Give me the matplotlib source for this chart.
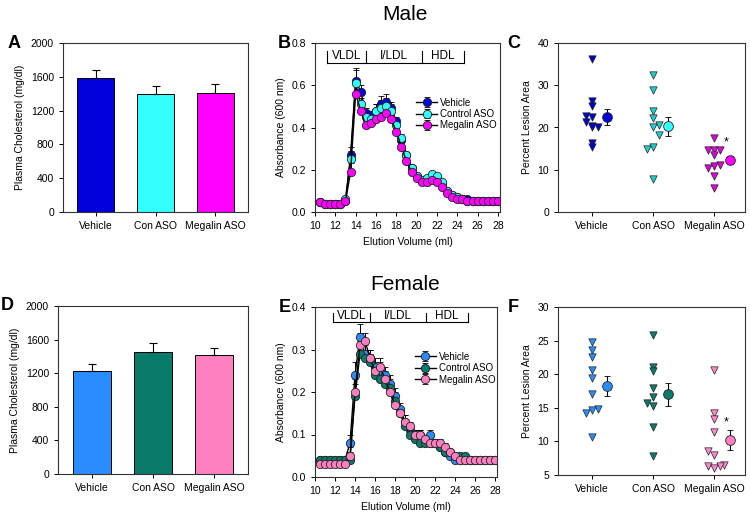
import matplotlib.pyplot as plt

plt.rcParams['font.family'] = ['Liberation Sans', 'DejaVu Sans']

# ---- data ----
groups = ["Vehicle", "Con ASO", "Megalin ASO"]

# plasma cholesterol (mg/dl)
male_chol = [1590, 1400, 1410]
male_chol_err = [85, 95, 110]
female_chol = [1230, 1450, 1420]
female_chol_err = [80, 110, 85]

# FPLC profiles
fplc_labels = ["Vehicle", "Control ASO", "Megalin ASO"]
elution = [10.5, 11, 11.5, 12, 12.5, 13, 13.5, 14, 14.5, 15, 15.5, 16, 16.5, 17, 17.5, 18,
           18.5, 19, 19.5, 20, 20.5, 21, 21.5, 22, 22.5, 23, 23.5, 24, 24.5, 25, 25.5, 26,
           26.5, 27, 27.5, 28]

male_veh = [0.045, 0.04, 0.04, 0.04, 0.04, 0.05, 0.27, 0.62, 0.57, 0.47, 0.46, 0.48, 0.51, 0.52,
            0.49, 0.43, 0.34, 0.27, 0.21, 0.17, 0.15, 0.15, 0.16, 0.16, 0.13, 0.10, 0.08, 0.07,
            0.06, 0.06, 0.05, 0.05, 0.05, 0.05, 0.05, 0.05]
male_con = [0.045, 0.04, 0.04, 0.04, 0.04, 0.06, 0.25, 0.61, 0.51, 0.45, 0.44, 0.48, 0.49, 0.50,
            0.48, 0.41, 0.35, 0.27, 0.21, 0.17, 0.15, 0.16, 0.18, 0.17, 0.14, 0.10, 0.08, 0.07,
            0.06, 0.05, 0.05, 0.05, 0.05, 0.05, 0.05, 0.05]
male_meg = [0.045, 0.04, 0.04, 0.04, 0.04, 0.05, 0.19, 0.56, 0.48, 0.41, 0.42, 0.44, 0.45, 0.47,
            0.44, 0.38, 0.31, 0.24, 0.19, 0.16, 0.14, 0.14, 0.15, 0.14, 0.12, 0.09, 0.07, 0.06,
            0.06, 0.05, 0.05, 0.05, 0.05, 0.05, 0.05, 0.05]
male_veh_err = [0, 0, 0, 0, 0, 0.01, 0.04, 0.06, 0.03, 0.02, 0.02, 0.03, 0.04, 0.04,
                0.03, 0.02, 0.02, 0.01, 0.01, 0.01, 0.01, 0.01, 0.01, 0.01, 0.01, 0.01, 0, 0,
                0, 0, 0, 0, 0, 0, 0, 0]

female_veh = [0.04, 0.04, 0.04, 0.04, 0.04, 0.04, 0.08, 0.24, 0.33, 0.29, 0.28, 0.26, 0.25, 0.24,
              0.22, 0.19, 0.16, 0.13, 0.11, 0.10, 0.10, 0.09, 0.10, 0.08, 0.07, 0.06, 0.05, 0.04,
              0.04, 0.04, 0.04, 0.04, 0.04, 0.04, 0.04, 0.04]
female_con = [0.04, 0.04, 0.04, 0.04, 0.04, 0.04, 0.04, 0.19, 0.29, 0.28, 0.27, 0.24, 0.23, 0.22,
              0.21, 0.18, 0.15, 0.12, 0.10, 0.09, 0.08, 0.08, 0.08, 0.08, 0.07, 0.06, 0.06, 0.05,
              0.05, 0.05, 0.04, 0.04, 0.04, 0.04, 0.04, 0.04]
female_meg = [0.03, 0.03, 0.03, 0.03, 0.03, 0.03, 0.05, 0.20, 0.31, 0.32, 0.28, 0.25, 0.26, 0.23,
              0.20, 0.17, 0.15, 0.13, 0.12, 0.10, 0.10, 0.09, 0.08, 0.08, 0.08, 0.07, 0.06, 0.05,
              0.04, 0.04, 0.04, 0.04, 0.04, 0.04, 0.04, 0.04]
female_err = [0, 0, 0, 0, 0, 0.005, 0.02, 0.03, 0.03, 0.02, 0.02, 0.02, 0.02, 0.02,
              0.02, 0.02, 0.015, 0.015, 0.01, 0.01, 0.01, 0.01, 0.01, 0.01, 0.01, 0.01, 0.005, 0.005,
              0.005, 0.005, 0, 0, 0, 0, 0, 0]

# lesion area (%), individual animals, with column slot for spreading
male_lesion = [
    [36.2, 26.2, 25.0, 22.8, 22.4, 21.3, 20.3, 20.1, 20.0, 16.3, 15.4],
    [32.5, 28.9, 23.8, 22.3, 20.7, 20.0, 18.2, 15.3, 14.8, 7.9],
    [17.6, 14.7, 14.6, 14.6, 13.6, 11.2, 10.8, 10.5, 8.6, 5.6],
]
male_slot = [
    [0, 0, 0, -1, 0, -1, 0, 1, 0, 0, 0],
    [0, 0, 0, 0, 1, 0, 1, 0, -1, 0],
    [0, -1, 0, 1, 0, 1, 0, -1, 0, 0],
]
male_mean = [22.5, 20.3, 12.3]
male_sem = [1.8, 2.2, 1.0]

female_lesion = [
    [24.8, 23.6, 22.6, 20.6, 19.4, 17.0, 14.8, 14.7, 14.2, 10.6],
    [25.8, 21.1, 20.5, 18.0, 16.6, 15.7, 15.2, 12.2, 7.8],
    [20.6, 14.3, 13.3, 11.4, 8.5, 8.0, 6.5, 6.4, 6.4, 6.1],
]
female_slot = [
    [0, 0, 0, 0, 0, 0, 1, 0, -1, 0],
    [0, 0, 0, 0, 0, -1, 0, 0, 0],
    [0, 0, 0, 0, -1, 0, 1.5, 1, -1, 0],
]
female_mean = [18.3, 17.0, 10.2]
female_sem = [1.5, 1.7, 1.5]

male_colors = ["#0000dd", "#33ffff", "#ff00ff"]
male_tri = ["#0000cc", "#22cccc", "#dd00dd"]
female_colors = ["#2a8cff", "#0a7a6a", "#ff80c0"]
female_tri = ["#2a8cff", "#0a7a6a", "#ff88cc"]


def style_axes(ax):
    for s in ax.spines.values():
        s.set_linewidth(0.8)
        s.set_color("#333333")
    ax.tick_params(labelsize=7.5, length=3, width=0.7, direction="out")


def bar_panel(ax, vals, errs, colors, letter):
    x = range(len(groups))
    ax.bar(x, vals, width=0.62, color=colors, edgecolor="black", linewidth=0.7)
    ax.errorbar(x, vals, yerr=[[0] * len(errs), errs], fmt="none", ecolor="black",
                elinewidth=0.8, capsize=3, capthick=0.8)
    ax.set_xticks(list(x))
    ax.set_xticklabels(groups)
    ax.tick_params(axis="x", length=0)
    ax.set_xlim(-0.55, 2.55)
    ax.set_ylim(0, 2000)
    ax.set_yticks([0, 400, 800, 1200, 1600, 2000])
    ax.set_ylabel("Plasma Cholesterol (mg/dl)", fontsize=7.5)
    style_axes(ax)
    ax.text(-0.3, 1.0, letter, transform=ax.transAxes, fontsize=13, fontweight="bold",
            va="center", ha="left")


def fplc_panel(ax, series, colors, errs, ymax, yticks, bracket_y, text_y, bars, letter, leg_y):
    for ys, c, lab in zip(series, colors, fplc_labels):
        ax.errorbar(elution, ys, yerr=[[0] * len(errs), errs], color="black", lw=1.0,
                    marker="o", ms=6, mfc=c, mec="#222222", mew=0.6, ecolor="black",
                    elinewidth=0.7, capsize=2, label=lab)
    ax.set_xlim(10, 28.2)
    ax.set_xticks(range(10, 29, 2))
    ax.set_ylim(0, ymax)
    ax.set_yticks(yticks)
    ax.set_xlabel("Elution Volume (ml)", fontsize=7.5)
    ax.set_ylabel("Absorbance (600 nm)", fontsize=7.5)
    style_axes(ax)
    # lipoprotein class bracket
    ax.plot([bars[0], bars[-1]], [bracket_y, bracket_y], color="black", lw=0.8)
    for b in bars:
        ax.plot([b, b], [bracket_y, text_y + (text_y - bracket_y) * 0.6], color="black", lw=0.8)
    names = ["VLDL", "I/LDL", "HDL"]
    for i, n in enumerate(names):
        ax.text((bars[i] + bars[i + 1]) / 2, text_y, n, fontsize=8.5, ha="center", va="center")
    ax.legend(loc="center left", bbox_to_anchor=(0.52, leg_y), frameon=False, fontsize=7,
              handlelength=2.2, handletextpad=0.3, labelspacing=0.15, borderpad=0)
    ax.text(-0.2, 1.0, letter, transform=ax.transAxes, fontsize=13, fontweight="bold",
            va="center", ha="left")


def lesion_panel(ax, pts, slots, means, sems, cols, tcols, ylim, yticks, star_y, letter):
    for i in range(len(groups)):
        xs = [i + s * 0.1 for s in slots[i]]
        ax.scatter(xs, pts[i], marker="v", s=28, color=tcols[i], edgecolor="#222222",
                   linewidth=0.5, zorder=3)
        ax.errorbar(i + 0.25, means[i], yerr=sems[i], fmt="o", ms=7, mfc=cols[i],
                    mec="#222222", mew=0.6, ecolor="black", elinewidth=0.8, capsize=2.5, zorder=4)
    ax.text(2 + 0.2, star_y, "*", fontsize=9, ha="center", va="center")
    ax.set_xticks(range(len(groups)))
    ax.set_xticklabels(groups)
    ax.tick_params(axis="x", length=0)
    ax.set_xlim(-0.55, 2.5)
    ax.set_ylim(*ylim)
    ax.set_yticks(yticks)
    ax.set_ylabel("Percent Lesion Area", fontsize=7.5)
    style_axes(ax)
    ax.text(-0.27, 1.0, letter, transform=ax.transAxes, fontsize=13, fontweight="bold",
            va="center", ha="left")


fig = plt.figure(figsize=(7.5, 5.17), dpi=100)
W, H = 750, 517


def add_ax(x0, y0, x1, y1):
    return fig.add_axes([x0 / W, 1 - y1 / H, (x1 - x0) / W, (y1 - y0) / H])


axA = add_ax(63, 43, 248, 212)
axB = add_ax(315, 43, 500, 212)
axC = add_ax(558, 43, 745, 212)
axD = add_ax(58, 306, 248, 474)
axE = add_ax(315, 307, 497, 477)
axF = add_ax(558, 307, 745, 475)

bar_panel(axA, male_chol, male_chol_err, male_colors, "A")
bar_panel(axD, female_chol, female_chol_err, female_colors, "D")

fplc_panel(axB, [male_veh, male_con, male_meg], male_colors, male_veh_err, 0.8,
           [0.0, 0.2, 0.4, 0.6, 0.8], 0.705, 0.74, [11.2, 15.0, 20.5, 24.7], "B", 0.58)
fplc_panel(axE, [female_veh, female_con, female_meg], female_colors, female_err, 0.4,
           [0.0, 0.1, 0.2, 0.3, 0.4], 0.365, 0.378, [11.8, 15.5, 21.1, 25.3], "E", 0.64)

lesion_panel(axC, male_lesion, male_slot, male_mean, male_sem, male_colors, male_tri,
             (0, 40), [0, 10, 20, 30, 40], 16.5, "C")
lesion_panel(axF, female_lesion, female_slot, female_mean, female_sem, female_colors, female_tri,
             (5, 30), [5, 10, 15, 20, 25, 30], 12.8, "F")

fig.text(405 / W, 1 - 14 / H, "Male", fontsize=15, ha="center", va="center")
fig.text(405 / W, 1 - 285 / H, "Female", fontsize=15, ha="center", va="center")

fig.savefig("out.png", dpi=100)
